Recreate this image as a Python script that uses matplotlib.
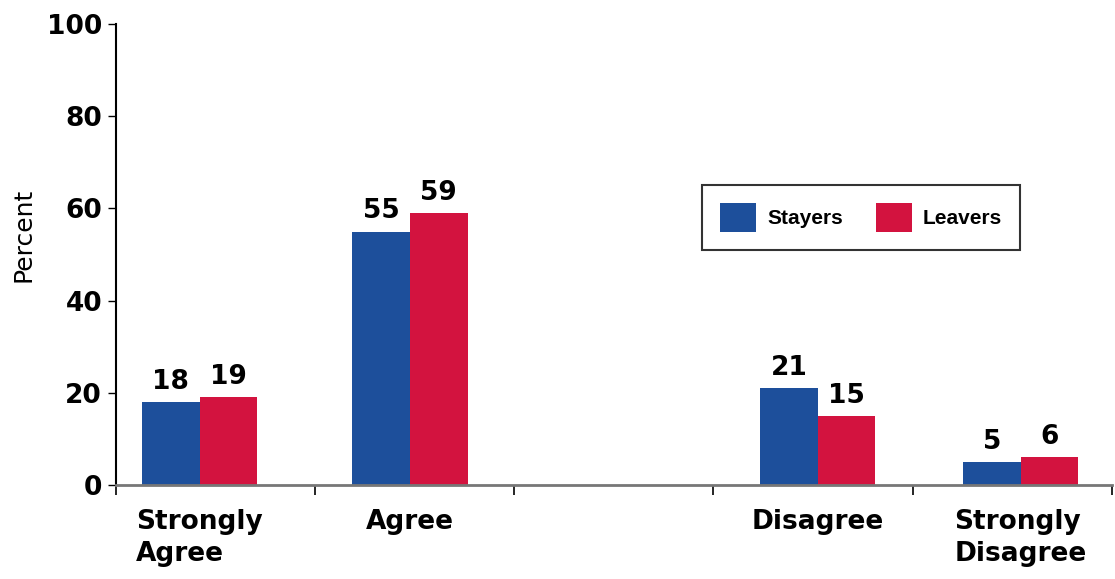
import numpy as np
import matplotlib
matplotlib.use("Agg")
import matplotlib.pyplot as plt

# data
categories = ["Strongly\nAgree", "Agree", "Disagree", "Strongly\nDisagree"]
stayers = [18, 55, 21, 5]
leavers = [19, 59, 15, 6]
series_names = ["Stayers", "Leavers"]

blue = "#1d4f9b"
red = "#d3133f"

plt.rcParams["font.family"] = ["DejaVu Sans"]

fig = plt.figure(figsize=(11.15, 5.79), dpi=100)
ax = fig.add_axes([0.104, 0.1623, 0.893, 0.796])

# category centres (third slot is left empty in the original)
x = np.array([0.42, 1.476, 3.524, 4.543])
w = 0.29

b1 = ax.bar(x - w/2, stayers, w, color=blue, label=series_names[0])
b2 = ax.bar(x + w/2, leavers, w, color=red, label=series_names[1])

for bars, vals in [(b1, stayers), (b2, leavers)]:
    for rect, v in zip(bars, vals):
        ax.text(rect.get_x() + rect.get_width()/2, v + 1.6, str(v),
                ha="center", va="bottom", fontsize=19, fontweight="bold")

ax.set_xlim(0, 5)
ax.set_ylim(0, 100)
ax.set_yticks([0, 20, 40, 60, 80, 100])
ax.tick_params(axis="y", labelsize=19, length=6, width=1, pad=4)
for lab in ax.get_yticklabels():
    lab.set_fontweight("bold")

ax.set_xticks(range(6))
ax.set_xticklabels([])
ax.tick_params(axis="x", length=7, width=1.2, direction="out")

for xi, cat in zip(x, categories):
    ax.text(xi, -5.2, cat, ha="center", va="top", multialignment="left",
            fontsize=19, fontweight="bold", linespacing=1.3,
            transform=ax.transData, clip_on=False)

ax.set_ylabel("Percent", fontsize=18)
ax.yaxis.set_label_coords(-0.081, 0.542)

ax.spines["top"].set_visible(False)
ax.spines["right"].set_visible(False)
ax.spines["left"].set_linewidth(1.5)
ax.spines["bottom"].set_linewidth(2)
ax.spines["bottom"].set_color("#777777")

leg = ax.legend(loc="upper left", bbox_to_anchor=(0.589, 0.651),
                ncol=2, frameon=True, fancybox=False,
                handlelength=1.7, handleheight=1.8,
                prop={"family": "Liberation Sans", "weight": "bold", "size": 15},
                borderpad=0.85, columnspacing=1.6, handletextpad=0.55,
                borderaxespad=0)
leg.get_frame().set_edgecolor("black")
leg.get_frame().set_linewidth(1.5)

fig.savefig("out.png", dpi=100)
